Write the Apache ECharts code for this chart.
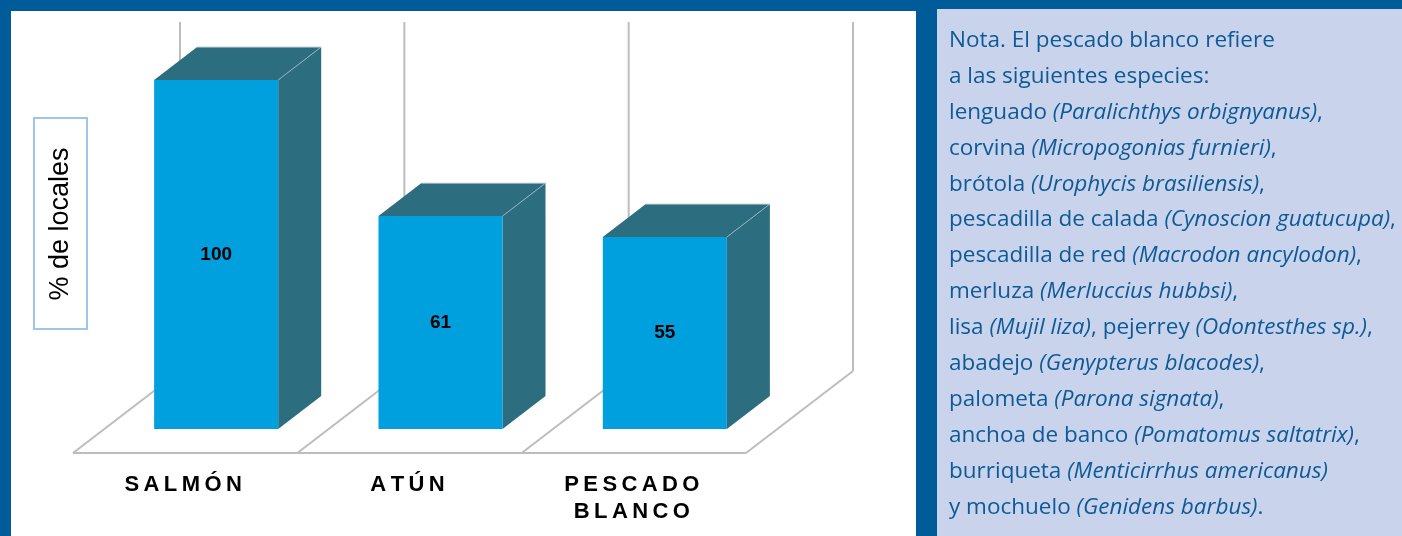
<!DOCTYPE html>
<html>
<head>
<meta charset="utf-8">
<script src="https://cdn.jsdelivr.net/npm/echarts@6/dist/echarts.min.js"></script>
<style>
  html, body { margin: 0; padding: 0; background: #005C99; }
  #chart { width: 1402px; height: 536px; }
</style>
</head>
<body>
<div id="chart"></div>
<script>
// ---- data ----
const categories = ['SALMÓN', 'ATÚN', 'PESCADO\nBLANCO'];
const values = [100, 61, 55];
const yAxisTitle = '% de locales';
const noteLines = [
  'Nota. El pescado blanco refiere',
  'a las siguientes especies:',
  'lenguado {i|(Paralichthys orbignyanus)},',
  'corvina {i|(Micropogonias furnieri)},',
  'brótola {i|(Urophycis brasiliensis)},',
  'pescadilla de calada {i|(Cynoscion guatucupa)},',
  'pescadilla de red {i|(Macrodon ancylodon)},',
  'merluza {i|(Merluccius hubbsi)},',
  'lisa {i|(Mujil liza)}, pejerrey {i|(Odontesthes sp.)},',
  'abadejo {i|(Genypterus blacodes)},',
  'palometa {i|(Parona signata)},',
  'anchoa de banco {i|(Pomatomus saltatrix)},',
  'burriqueta {i|(Menticirrhus americanus)}',
  'y mochuelo {i|(Genidens barbus)}.'
];

// ---- style / geometry constants ----
const Y_MAX = 100;
const FRONT_COLOR = '#009FDE';
const DARK_COLOR = '#2C6D7F';
const EDGE_COLOR = '#8FB3BE';
const FRAME_COLOR = '#BDBDBD';
const BAR_RATIO = 0.553;       // bar width / category band
const BAR_DX = 43, BAR_DY = -33;   // bar depth vector
const FLOOR_DX = -31, FLOOR_DY = 24; // front floor edge relative to bar plane
const WALL_DX = 76, WALL_DY = -58;   // back wall relative to bar plane
const NOTE_COLOR = '#0D5A96';
const NOTE_FONT = '"Open Sans"';
const NOTE_SIZE = 22.5;

const chart = echarts.init(document.getElementById('chart'), null, { renderer: 'canvas' });

function frameItem(params, api) {
  const i = api.value(0);
  const base = api.coord([i, 0]);
  const topY = api.coord([i, Y_MAX])[1];
  const band = api.size([1, 0])[0];
  const bl = base[0] - band / 2;
  const br = base[0] + band / 2;
  const y0 = base[1];
  const ls = { stroke: FRAME_COLOR, lineWidth: 2 };
  const children = [];
  const boundaries = [bl];
  if (i === categories.length - 1) boundaries.push(br);
  children.push({ type: 'line', shape: { x1: bl + FLOOR_DX, y1: y0 + FLOOR_DY, x2: br + FLOOR_DX, y2: y0 + FLOOR_DY }, style: ls });
  boundaries.forEach(function (b) {
    children.push({ type: 'line', shape: { x1: b + FLOOR_DX, y1: y0 + FLOOR_DY, x2: b + WALL_DX, y2: y0 + WALL_DY }, style: ls });
    children.push({ type: 'line', shape: { x1: b + WALL_DX, y1: y0 + WALL_DY, x2: b + WALL_DX, y2: topY + WALL_DY }, style: ls });
  });
  return { type: 'group', children: children };
}

function barItem(params, api) {
  const i = api.value(0);
  const v = api.value(1);
  const top = api.coord([i, v]);
  const base = api.coord([i, 0]);
  const band = api.size([1, 0])[0];
  const w = band * BAR_RATIO;
  const xl = top[0] - w / 2, xr = top[0] + w / 2;
  const yt = top[1], yb = base[1];
  return {
    type: 'group',
    children: [
      { type: 'polygon', shape: { points: [[xr, yt], [xr + BAR_DX, yt + BAR_DY], [xr + BAR_DX, yb + BAR_DY], [xr, yb]] }, style: { fill: DARK_COLOR } },
      { type: 'polygon', shape: { points: [[xl, yt], [xl + BAR_DX, yt + BAR_DY], [xr + BAR_DX, yt + BAR_DY], [xr, yt]] }, style: { fill: DARK_COLOR } },
      { type: 'line', shape: { x1: xr, y1: yt, x2: xr + BAR_DX, y2: yt + BAR_DY }, style: { stroke: EDGE_COLOR, lineWidth: 1 } },
      { type: 'line', shape: { x1: xl + BAR_DX, y1: yt + BAR_DY, x2: xr + BAR_DX, y2: yt + BAR_DY }, style: { stroke: '#C9D3D6', lineWidth: 1 } },
      { type: 'rect', shape: { x: xl, y: yt, width: w, height: yb - yt }, style: { fill: FRONT_COLOR } },
      { type: 'text', x: top[0], y: (yt + yb) / 2, style: { text: String(v), fill: '#000', font: 'bold 19px Arial, "Liberation Sans", sans-serif', align: 'center', verticalAlign: 'middle' } }
    ]
  };
}

function spacedLabel(val) {
  return val.split('\n').map(function (line) {
    return Array.from(line).map(function (ch) { return '{s|' + ch + '}'; }).join('');
  }).join('\n');
}

const noteGraphics = noteLines.map(function (line, k) {
  return {
    type: 'text',
    left: 949,
    top: 29 + 35.9 * k,
    z: 10,
    style: {
      text: line,
      fill: NOTE_COLOR,
      fontFamily: NOTE_FONT,
      fontSize: NOTE_SIZE,
      rich: {
        i: { fontStyle: 'italic', fontFamily: NOTE_FONT, fontSize: NOTE_SIZE, fill: NOTE_COLOR }
      }
    }
  };
});

const option = {
  backgroundColor: '#005C99',
  animation: false,
  grid: { left: 104, right: 625, top: 80, bottom: 107 },
  xAxis: {
    type: 'category',
    data: categories,
    axisLine: { show: false },
    axisTick: { show: false },
    splitLine: { show: false },
    axisLabel: {
      margin: 42,
      interval: 0,
      padding: [0, 66, 0, 0],
      formatter: spacedLabel,
      verticalAlign: 'top',
      rich: {
        s: { fontFamily: 'Arial, "Liberation Sans", sans-serif', fontWeight: 'bold', fontSize: 22, color: '#000', lineHeight: 27, padding: [0, 2.2, 0, 2.2] }
      }
    }
  },
  yAxis: {
    type: 'value',
    min: 0,
    max: Y_MAX,
    show: false
  },
  graphic: [
    { type: 'rect', shape: { x: 11, y: 11, width: 905, height: 530 }, style: { fill: '#FFFFFF' }, z: -10 },
    { type: 'rect', shape: { x: 937, y: 9, width: 470, height: 532 }, style: { fill: '#C9D4EC' }, z: -10 },
    { type: 'rect', shape: { x: 34, y: 118, width: 53, height: 211 }, style: { fill: '#FFFFFF', stroke: '#9DC6EC', lineWidth: 2 }, z: 5 },
    { type: 'text', x: 61, y: 224, rotation: Math.PI / 2, z: 6, style: { text: yAxisTitle, fill: '#000', font: '27px Arial, "Liberation Sans", sans-serif', align: 'center', verticalAlign: 'middle' } }
  ].concat(noteGraphics),
  series: [
    {
      type: 'custom',
      z: 1,
      renderItem: frameItem,
      data: categories.map(function (c, i) { return [i]; }),
      encode: { x: 0 },
      silent: true
    },
    {
      type: 'custom',
      z: 3,
      renderItem: barItem,
      data: values.map(function (v, i) { return [i, v]; }),
      encode: { x: 0, y: 1 }
    }
  ]
};
chart.setOption(option);
</script>
</body>
</html>
